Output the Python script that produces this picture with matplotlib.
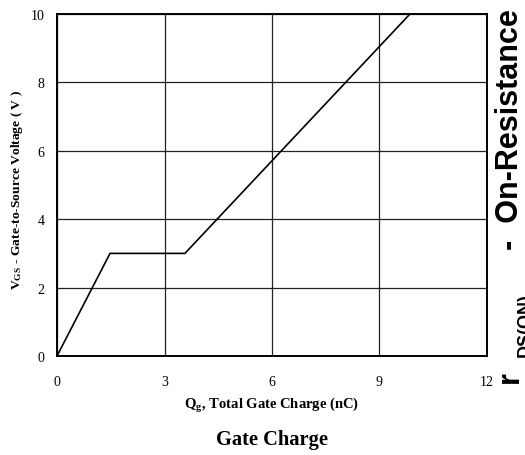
import matplotlib
matplotlib.use("Agg")
import matplotlib.pyplot as plt

# Data
qg = [0.0, 1.48, 3.57, 9.85]      # total gate charge (nC)
vgs = [0.0, 3.0, 3.0, 10.0]       # gate-to-source voltage (V)
xticks = [0, 3, 6, 9, 12]
yticks = [0, 2, 4, 6, 8, 10]

fig = plt.figure(figsize=(5.25, 4.56), dpi=100)
ax = fig.add_axes([57/525, 1-357/456, (487-57)/525, (357-15)/456])

ax.plot(qg, vgs, color='black', lw=1.2, solid_joinstyle='miter')
ax.set_xlim(0, 12)
ax.set_ylim(0, 10)
ax.set_xticks(xticks)
ax.set_yticks(yticks)
ax.grid(True, color='#222222', lw=0.9)
ax.set_axisbelow(True)
for s in ax.spines.values():
    s.set_linewidth(1.4)
    s.set_color('black')
ax.tick_params(length=0, pad=9)
ax.tick_params(axis='x', pad=14)
for lab in ax.get_xticklabels() + ax.get_yticklabels():
    lab.set_fontfamily('Liberation Serif')
    lab.set_fontsize(10)

serif_b = dict(family='Liberation Serif', weight='bold')
fig.text((57+487)/2/525, 1-406/456, r'Q$_\mathregular{g}$, Total Gate Charge (nC)',
         ha='center', va='center', fontsize=10.5, **serif_b,
         math_fontfamily='stix')
fig.text((57+487)/2/525, 1-440/456, 'Gate Charge', ha='center', va='center',
         fontsize=14.8, **serif_b)
fig.text(17/525, 1-190/456, r'V$_\mathregular{GS}$ - Gate-to-Source Voltage ( V )',
         rotation=90, ha='center', va='center', fontsize=9.7, **serif_b,
         math_fontfamily='stix')

sans_b = dict(family='Liberation Sans', weight='bold',
              rotation=90, rotation_mode='anchor', ha='left', va='baseline')
fig.text(518/525, 1-383/456, 'r', fontsize=22, **sans_b)
fig.text(530/525, 1-357/456, 'DS(ON)', fontsize=13, **sans_b)
fig.text(518/525, 1-250/456, '-  On-Resistance', fontsize=22, **sans_b)

fig.savefig('out.png', dpi=100)
